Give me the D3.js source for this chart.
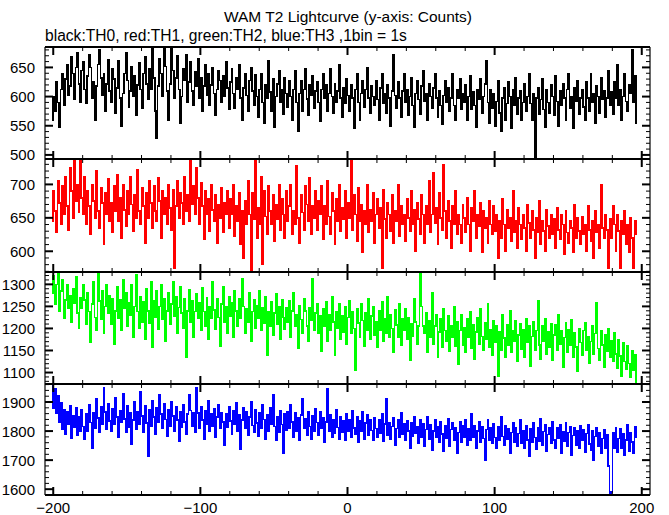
<!DOCTYPE html>
<html><head><meta charset="utf-8">
<script src="https://cdn.jsdelivr.net/npm/d3@7"></script>
<style>body{margin:0;background:#fff}svg{display:block}text{font-family:"Liberation Sans",Arial,sans-serif;fill:#000}</style>
</head><body><svg id="c" width="669" height="515"></svg>
<script>
const title = "WAM T2 Lightcurve (y-axis: Counts)";
const subtitle = "black:TH0, red:TH1, green:TH2, blue:TH3 ,1bin = 1s";
const xStart = -201;
const xTickLabels = [-200, -100, 0, 100, 200];
const seriesNames = ["TH0", "TH1", "TH2", "TH3"];
const seriesColors = ["#000000", "#ff0000", "#00ff00", "#0000ff"];
const yDomains = [[493, 685], [569, 738], [1074, 1328], [1580, 1962]];
const yMajorTicks = [[500, 550, 600, 650], [600, 650, 700], [1100, 1150, 1200, 1250, 1300], [1600, 1700, 1800, 1900]];
const yMinorStep = [10, 10, 10, 20];

const th0 = [
560,600,575,625,590,548,612,640,585,630,655,602,618,668,640,595,650,675,622,590,
645,660,612,588,635,672,650,598,625,560,618,655,680,632,602,640,575,622,664,610,
590,648,630,572,615,662,598,550,605,640,675,628,582,610,652,600,635,568,620,658,
612,580,640,668,622,595,648,612,685,632,575,528,618,665,640,600,688,652,610,560,
622,685,645,598,632,670,612,555,600,648,628,672,590,625,660,610,585,642,618,665,
598,632,575,618,655,602,640,585,620,650,605,568,612,645,628,590,635,600,660,615,
578,625,648,605,580,632,612,655,598,560,615,640,602,575,628,650,610,585,638,600,
565,612,640,590,555,620,598,662,608,575,630,548,600,622,645,590,612,570,632,605,
582,628,600,560,612,645,590,540,605,628,575,612,648,596,568,620,602,635,580,610,
625,590,558,612,640,598,620,575,605,648,600,572,622,590,610,655,598,565,615,588,
630,602,575,620,598,545,612,640,590,560,605,628,582,612,650,598,572,618,600,585,
628,595,560,615,640,588,605,572,620,598,550,610,672,602,580,625,598,565,610,640,
590,612,568,600,632,585,548,605,628,595,570,618,645,592,605,560,622,600,580,615,
640,598,565,610,585,552,602,628,590,615,575,598,640,585,560,612,598,630,578,605,
590,620,560,600,635,578,608,585,548,612,595,630,572,600,622,662,590,555,612,580,
605,550,592,628,572,540,598,615,560,588,625,600,545,612,585,632,570,598,610,560,
590,622,575,600,640,588,560,605,495,598,615,570,595,630,578,548,612,590,572,620,
600,568,635,592,550,610,585,622,598,560,612,640,580,600,545,615,592,628,570,598,
612,582,560,625,598,575,640,590,605,555,618,600,572,632,595,610,565,598,645,585,
608,570,625,598,655,585,612,560,600,640,592,575,620,605,680,590,635,555];

const th1 = [
645,690,660,628,705,672,640,698,655,712,668,632,725,690,650,738,675,700,658,738,
680,655,712,640,690,668,625,700,675,650,720,660,635,695,672,610,688,655,708,645,
672,628,698,660,715,645,680,620,700,662,638,690,655,712,670,630,685,650,722,660,
640,695,668,612,688,650,705,672,635,698,660,645,710,675,620,690,655,680,640,700,
665,632,692,575,668,705,650,688,672,640,712,660,685,645,738,670,698,655,725,680,
640,702,668,618,690,655,678,630,700,662,645,685,612,670,650,695,628,672,655,690,
635,678,655,700,622,668,645,688,610,660,590,675,640,705,655,570,688,648,738,620,
665,640,712,580,690,652,625,698,660,640,685,615,670,648,700,632,678,655,620,690,
645,668,700,625,660,640,728,650,612,685,658,632,698,670,645,710,625,668,650,690,
632,675,655,698,618,668,640,705,652,625,688,660,610,678,645,700,630,665,648,690,
620,672,650,738,632,685,655,615,695,645,670,598,660,640,700,628,662,645,688,612,
655,678,635,665,575,692,648,620,672,655,630,685,612,660,645,700,622,668,640,655,
615,678,650,630,690,640,662,600,672,648,625,685,655,612,668,640,705,628,655,718,
642,665,610,688,650,632,730,660,620,675,645,605,668,640,690,625,655,640,612,670,
650,628,680,640,600,665,645,690,620,655,638,672,598,660,635,650,612,675,640,625,
668,630,655,590,645,620,678,640,600,662,635,650,615,690,628,645,605,665,640,618,
655,635,600,670,642,620,660,632,590,650,628,675,610,645,630,600,662,638,620,655,
625,648,605,665,632,618,655,640,595,660,628,612,645,635,598,670,620,650,630,610,
652,625,640,600,668,632,615,645,590,660,628,640,605,700,635,620,655,632,575,648,
620,668,640,600,655,630,575,645,625,660,610,640,598,650,620,575,645,625];

const th2 = [
1280,1320,1255,1300,1328,1240,1285,1310,1222,1265,1300,1245,1275,1215,1290,1258,1318,1235,1200,1270,
1245,1298,1265,1210,1280,1238,1168,1255,1305,1225,1195,1328,1262,1220,1285,1190,1250,1300,1235,1275,
1210,1268,1165,1240,1295,1222,1265,1195,1310,1245,1282,1205,1258,1230,1300,1180,1250,1322,1238,1200,
1272,1215,1260,1175,1290,1240,1212,1305,1158,1262,1225,1285,1198,1250,1300,1220,1268,1172,1240,1282,
1210,1255,1305,1228,1272,1190,1248,1295,1235,1200,1268,1135,1240,1288,1215,1262,1180,1238,1278,1222,
1258,1195,1292,1238,1205,1270,1175,1250,1222,1305,1242,1198,1268,1225,1160,1255,1295,1215,1250,1188,
1272,1228,1258,1180,1285,1240,1205,1268,1222,1312,1250,1190,1245,1215,1280,1172,1238,1265,1200,1252,
1222,1285,1195,1248,1212,1272,1140,1238,1205,1260,1185,1235,1278,1210,1250,1175,1265,1225,1198,1248,
1215,1262,1180,1240,1280,1205,1232,1155,1252,1220,1190,1268,1240,1205,1172,1248,1218,1312,1195,1235,
1255,1188,1228,1148,1245,1205,1260,1170,1232,1195,1272,1215,1140,1238,1200,1255,1175,1228,1192,1250,
1165,1225,1262,1188,1238,1200,1105,1245,1212,1180,1255,1218,1160,1235,1195,1268,1175,1228,1250,1185,
1215,1158,1240,1195,1260,1170,1222,1188,1272,1180,1232,1200,1145,1242,1208,1180,1255,1162,1222,1195,
1245,1175,1225,1128,1210,1182,1268,1215,1165,1205,1328,1250,1205,1188,1235,1145,1218,1180,1280,1165,
1205,1232,1135,1192,1222,1158,1245,1195,1170,1228,1148,1205,1180,1250,1160,1215,1118,1195,1230,1162,
1202,1145,1222,1180,1238,1155,1208,1130,1192,1225,1165,1245,1182,1150,1212,1175,1255,1158,1198,1140,
1218,1168,1205,1092,1192,1150,1230,1178,1135,1208,1162,1240,1145,1195,1170,1218,1125,1185,1210,1152,
1198,1135,1222,1168,1205,1115,1182,1215,1150,1195,1262,1162,1130,1205,1172,1222,1142,1192,1158,1210,
1128,1185,1208,1150,1232,1165,1195,1112,1180,1212,1145,1198,1162,1220,1135,1190,1158,1102,1200,1168,
1140,1195,1212,1150,1182,1122,1170,1205,1142,1188,1258,1155,1128,1195,1162,1112,1185,1148,1200,1135,
1172,1125,1190,1142,1110,1175,1138,1092,1168,1125,1108,1160,1120,1090,1150,1105,1140,1078];

const th3 = [
1955,1880,1945,1862,1920,1830,1898,1805,1875,1790,1865,1825,1888,1775,1852,1812,1880,1785,1848,1800,
1875,1815,1772,1858,1800,1892,1830,1742,1862,1810,1912,1845,1795,1882,1822,1950,1865,1805,1895,1835,
1798,1878,1825,1915,1848,1780,1870,1830,1930,1842,1795,1888,1812,1862,1755,1838,1900,1805,1868,1825,
1935,1852,1795,1888,1828,1712,1872,1815,1905,1848,1790,1880,1832,1925,1858,1808,1895,1840,1782,1875,
1818,1900,1852,1800,1885,1838,1765,1868,1812,1890,1832,1788,1858,1925,1870,1815,1862,1795,1950,1862,
1810,1885,1838,1772,1870,1825,1905,1800,1858,1815,1878,1780,1848,1892,1808,1862,1832,1752,1860,1812,
1882,1835,1790,1870,1822,1898,1800,1855,1738,1838,1880,1810,1865,1785,1848,1902,1820,1795,1872,1828,
1782,1862,1808,1890,1840,1772,1855,1800,1880,1825,1925,1815,1770,1850,1795,1870,1822,1725,1858,1802,
1868,1810,1890,1832,1778,1862,1800,1845,1768,1855,1912,1808,1842,1785,1868,1815,1772,1852,1798,1878,
1830,1785,1865,1808,1845,1760,1832,1945,1800,1855,1778,1838,1792,1872,1812,1772,1850,1795,1835,1770,
1858,1800,1840,1778,1870,1810,1788,1850,1762,1835,1798,1865,1772,1828,1855,1785,1840,1802,1768,1845,
1808,1778,1838,1792,1858,1765,1825,1910,1785,1830,1772,1815,1845,1752,1808,1838,1778,1862,1790,1825,
1768,1835,1800,1742,1828,1782,1848,1792,1815,1758,1840,1780,1825,1748,1805,1850,1772,1822,1735,1800,
1838,1780,1815,1760,1832,1790,1732,1818,1775,1842,1748,1805,1828,1768,1812,1722,1795,1832,1762,1820,
1780,1838,1752,1808,1770,1860,1778,1820,1742,1800,1832,1760,1815,1775,1700,1805,1838,1768,1810,1758,
1825,1778,1742,1815,1768,1850,1782,1752,1820,1772,1808,1725,1795,1830,1762,1810,1748,1792,1838,1758,
1802,1742,1818,1770,1712,1808,1762,1828,1778,1738,1812,1765,1842,1752,1798,1822,1732,1788,1812,1758,
1832,1770,1742,1810,1775,1822,1722,1798,1765,1828,1748,1795,1815,1718,1785,1810,1752,1802,1740,1818,
1770,1805,1728,1792,1822,1755,1735,1800,1700,1782,1810,1748,1795,1722,1775,1805,1742,1788,1680,1580,
1590,1795,1742,1812,1728,1775,1808,1740,1790,1718,1770,1822,1732,1795,1762,1725,1815,1778];

const allSeries = [th0, th1, th2, th3];

const svg = d3.select("#c");
const L = 45, R = 650;
const panelTops = [47, 159, 272, 384];
const panelBottoms = [159, 272, 384, 495];
const x = d3.scaleLinear().domain([-205.6, 205.6]).range([L, R]);

svg.append("text").attr("x", 348).attr("y", 22).attr("text-anchor", "middle")
  .style("font-size", "15.5px").text(title);
svg.append("text").attr("x", 45).attr("y", 41)
  .style("font-size", "15.6px").text(subtitle);

const xMinor = d3.range(-200, 201, 20);
const fmt = d => (d < 0 ? "\u2212" + Math.abs(d) : String(d));

allSeries.forEach((vals, p) => {
  const top = panelTops[p], bot = panelBottoms[p];
  const y = d3.scaleLinear().domain(yDomains[p]).range([bot, top]);
  const g = svg.append("g");
  g.append("clipPath").attr("id", "clip" + p).append("rect")
    .attr("x", L).attr("y", top).attr("width", R - L).attr("height", bot - top);
  const pts = vals.map((v, i) => [xStart + i, v]);
  pts.push([xStart + vals.length, vals[vals.length - 1]]);
  const line = d3.line().x(d => x(d[0])).y(d => y(d[1])).curve(d3.curveStepAfter);
  g.append("path").attr("d", line(pts)).attr("clip-path", "url(#clip" + p + ")")
    .attr("fill", "none").attr("stroke", seriesColors[p]).attr("stroke-width", 1.5)
    .attr("shape-rendering", "crispEdges");

  // frame
  g.append("line").attr("x1", L).attr("x2", L).attr("y1", top).attr("y2", bot).attr("stroke", "#000").attr("stroke-width", 1.2);
  g.append("line").attr("x1", R).attr("x2", R).attr("y1", top).attr("y2", bot).attr("stroke", "#000").attr("stroke-width", 1.2);
  g.append("line").attr("x1", L).attr("x2", R).attr("y1", top).attr("y2", top).attr("stroke", "#000").attr("stroke-width", 2);
  g.append("line").attr("x1", L).attr("x2", R).attr("y1", bot).attr("y2", bot).attr("stroke", "#000").attr("stroke-width", 2);

  // x ticks top & bottom (inward)
  xMinor.forEach(t => {
    const major = t % 100 === 0;
    const len = major ? 8 : 4, w = major ? 2 : 1;
    const xx = x(t);
    g.append("line").attr("x1", xx).attr("x2", xx).attr("y1", top).attr("y2", top + len).attr("stroke", "#000").attr("stroke-width", w);
    g.append("line").attr("x1", xx).attr("x2", xx).attr("y1", bot).attr("y2", bot - len).attr("stroke", "#000").attr("stroke-width", w);
  });

  // y ticks left & right (inward)
  const step = yMinorStep[p];
  const ymin = Math.ceil(yDomains[p][0] / step) * step;
  const yTicks = d3.range(ymin, yDomains[p][1], step);
  yTicks.forEach(t => {
    const major = yMajorTicks[p].includes(t);
    const len = major ? 8 : 4, w = major ? 2 : 1;
    const yy = y(t);
    g.append("line").attr("x1", L).attr("x2", L + len).attr("y1", yy).attr("y2", yy).attr("stroke", "#000").attr("stroke-width", w);
    g.append("line").attr("x1", R).attr("x2", R - len).attr("y1", yy).attr("y2", yy).attr("stroke", "#000").attr("stroke-width", w);
  });
  yMajorTicks[p].forEach(t => {
    g.append("text").attr("x", 35).attr("y", y(t) + 5.5).attr("text-anchor", "end")
      .style("font-size", "15px").text(t);
  });
});

const xAxisY = 513;
xTickLabels.forEach(t => {
  svg.append("text").attr("x", x(t)).attr("y", xAxisY).attr("text-anchor", "middle")
    .style("font-size", "15px").text(fmt(t));
});
</script></body></html>
